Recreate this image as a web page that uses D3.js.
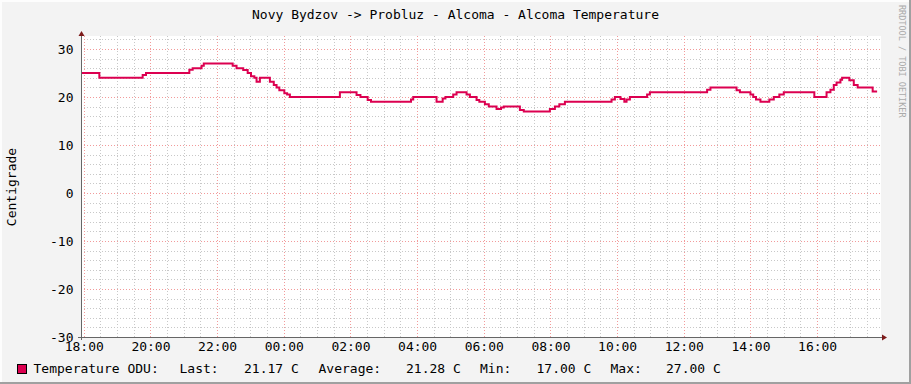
<!DOCTYPE html>
<html>
<head>
<meta charset="utf-8">
<script src="https://cdn.jsdelivr.net/npm/d3@7"></script>
<style>
  body { margin: 0; background: #f3f3f3; }
  svg { display: block; font-family: "DejaVu Sans Mono", monospace; }
</style>
</head>
<body>
<div id="chart"></div>
<script>
// step change points of the temperature series (HH:MM, next day after midnight)
const stepTimes = [
  "17:55", "18:28", "19:46", "19:52", "21:10", "21:16", "21:32", "21:36",
  "22:28", "22:35", "22:47", "22:55", "23:01", "23:07", "23:11", "23:17",
  "23:35", "23:42", "23:47", "23:52", "00:01", "00:06", "00:11", "01:41",
  "02:11", "02:18", "02:31", "02:37", "03:49", "03:53", "04:35", "04:46",
  "04:51", "05:05", "05:11", "05:29", "05:35", "05:47", "05:52", "06:02",
  "06:09", "06:23", "06:31", "06:36", "07:05", "07:12", "07:59", "08:08",
  "08:16", "08:26", "09:50", "09:56", "10:06", "10:13", "10:17", "10:23",
  "10:54", "10:59", "12:42", "12:48", "13:35", "13:41", "14:00", "14:05",
  "14:10", "14:18", "14:34", "14:42", "14:52", "15:00", "15:55", "16:17",
  "16:24", "16:30", "16:35", "16:42", "16:45", "16:58", "17:06", "17:13",
  "17:40", "17:48"
];
const stepTemps = [
  25, 24, 24.6, 25, 25.7, 26, 26.5, 27,
  26.5, 26, 25.6, 25, 24.3, 24, 23.2, 24,
  23.2, 22.5, 22, 21.4, 20.8, 20.5, 20, 21,
  20.4, 20, 19.4, 19, 19.5, 20, 19, 19.7,
  20, 20.5, 21, 20.5, 20, 19.4, 19, 18.5,
  18, 17.5, 17.8, 18, 17.3, 17, 17.5, 18,
  18.5, 19, 19.5, 20, 19.6, 19, 19.5, 20,
  20.5, 21, 21.5, 22, 21.4, 21, 20.5, 20,
  19.5, 19, 19.5, 20, 20.5, 21, 20, 21,
  21.5, 22.5, 23, 23.6, 24, 23.5, 22.5, 22,
  21.17, 21.17
];
const yTicks = [-30, -20, -10, 0, 10, 20, 30];
const legendParts = [
  ["Temperature ODU:", 33.5], ["Last:", 179.5], ["21.17 C", 244],
  ["Average:", 318.5], ["21.28 C", 406], ["Min:", 480],
  ["17.00 C", 536.5], ["Max:", 610.5], ["27.00 C", 666]
];

const W = 911, H = 384;
const plot = { left: 81, right: 881, top: 37, bottom: 337 };
const lineColor = "#dc0050";

// build dates, rolling over to the next day after midnight
let day = 1, prev = null;
const data = stepTimes.map((s, i) => {
  const [h, m] = s.split(":").map(Number);
  let d = new Date(2021, 0, day, h, m);
  if (prev && d < prev) { day++; d = new Date(2021, 0, day, h, m); }
  prev = d;
  return { t: d, v: stepTemps[i] };
});

const start = data[0].t;
const end = new Date(start.getTime() + 24 * 3600 * 1000);

const x = d3.scaleTime().domain([start, end]).range([plot.left, plot.right]);
const y = d3.scaleLinear().domain([-30, 32.5]).range([plot.bottom, plot.top]);

const svg = d3.select("#chart").append("svg")
  .attr("width", W).attr("height", H);

// canvas + 3d frame
svg.append("rect").attr("width", W).attr("height", H).attr("fill", "#f3f3f3");
svg.append("path").attr("d", `M1,${H} V1 H${W}`).attr("stroke", "#fdfdfd").attr("stroke-width", 2).attr("fill", "none");
svg.append("path").attr("d", `M0,${H - 1} H${W - 1} V0`).attr("stroke", "#a0a0a0").attr("stroke-width", 2).attr("fill", "none");

svg.append("rect")
  .attr("x", plot.left).attr("y", plot.top - 1)
  .attr("width", plot.right - plot.left).attr("height", plot.bottom - plot.top + 1)
  .attr("fill", "#fff");

const grid = svg.append("g").attr("shape-rendering", "crispEdges");

// minor grid
grid.append("g")
  .attr("transform", `translate(0,${plot.bottom})`)
  .call(d3.axisBottom(x).ticks(d3.timeMinute.every(30)).tickSize(-(plot.bottom - plot.top + 1)).tickFormat(""))
  .call(g => g.select(".domain").remove())
  .call(g => g.selectAll("line").attr("stroke", "#c8c8c8").attr("stroke-dasharray", "1,2"));
grid.append("g")
  .attr("transform", `translate(${plot.left},0)`)
  .call(d3.axisLeft(y).tickValues(d3.range(-30, 33, 2)).tickSize(-(plot.right - plot.left)).tickFormat(""))
  .call(g => g.select(".domain").remove())
  .call(g => g.selectAll("line").attr("stroke", "#c8c8c8").attr("stroke-dasharray", "1,2"));

// major grid
grid.append("g")
  .attr("transform", `translate(0,${plot.bottom})`)
  .call(d3.axisBottom(x).ticks(d3.timeHour.every(2)).tickSize(-(plot.bottom - plot.top + 1)).tickFormat(""))
  .call(g => g.select(".domain").remove())
  .call(g => g.selectAll("line").attr("stroke", "#f29a9a").attr("stroke-dasharray", "1,2"));
grid.append("g")
  .attr("transform", `translate(${plot.left},0)`)
  .call(d3.axisLeft(y).tickValues(yTicks).tickSize(-(plot.right - plot.left)).tickFormat(""))
  .call(g => g.select(".domain").remove())
  .call(g => g.selectAll("line").attr("stroke", "#f29a9a").attr("stroke-dasharray", "1,2"));

// data line
svg.append("path")
  .datum(data)
  .attr("fill", "none")
  .attr("stroke", lineColor)
  .attr("stroke-width", 2)
  .attr("d", d3.line().x(d => x(d.t)).y(d => y(d.v)).curve(d3.curveStepAfter));

// axes lines and arrows
svg.append("line").attr("x1", plot.left + 0.5).attr("x2", plot.left + 0.5)
  .attr("y1", plot.bottom + 3).attr("y2", plot.top - 2).attr("stroke", "#666");
svg.append("line").attr("x1", plot.left - 3).attr("x2", plot.right + 2)
  .attr("y1", plot.bottom + 0.5).attr("y2", plot.bottom + 0.5).attr("stroke", "#666");
svg.append("path")
  .attr("d", `M${plot.left + 0.5},${plot.top - 6} l-3,5 h6 z`).attr("fill", "#7d1a1a");
svg.append("path")
  .attr("d", `M${plot.right + 6},${plot.bottom + 0.5} l-5,-3 v6 z`).attr("fill", "#7d1a1a");

// tick labels
svg.append("g")
  .attr("transform", `translate(0,${plot.bottom})`)
  .call(d3.axisBottom(x).ticks(d3.timeHour.every(2)).tickSize(0).tickPadding(5).tickFormat(d3.timeFormat("%H:%M")))
  .call(g => g.select(".domain").remove())
  .call(g => g.selectAll("text").attr("font-family", "DejaVu Sans Mono").attr("font-size", 13).attr("fill", "#000"));
svg.append("g")
  .attr("transform", `translate(${plot.left},0)`)
  .call(d3.axisLeft(y).tickValues(yTicks).tickSize(0).tickPadding(7.5).tickFormat(d => String(d)))
  .call(g => g.select(".domain").remove())
  .call(g => g.selectAll("text").attr("font-family", "DejaVu Sans Mono").attr("font-size", 13).attr("fill", "#000"));

// title
svg.append("text")
  .attr("x", 455.5).attr("y", 19)
  .attr("text-anchor", "middle").attr("font-size", 13)
  .text("Novy Bydzov -> Probluz - Alcoma - Alcoma Temperature");

// y axis title
svg.append("text")
  .attr("transform", "translate(16,187) rotate(-90)")
  .attr("text-anchor", "middle").attr("font-size", 13)
  .text("Centigrade");

// watermark
svg.append("text")
  .attr("transform", "translate(899,5) rotate(90)")
  .attr("font-size", 8.5).attr("fill", "#aaa")
  .text("RRDTOOL / TOBI OETIKER");

// legend
svg.append("rect")
  .attr("x", 17.5).attr("y", 364.5).attr("width", 9).attr("height", 9)
  .attr("fill", lineColor).attr("stroke", "#000");
svg.append("g").selectAll("text")
  .data(legendParts)
  .join("text")
  .attr("x", d => d[1]).attr("y", 373)
  .attr("font-size", 13)
  .text(d => d[0]);
</script>
</body>
</html>
